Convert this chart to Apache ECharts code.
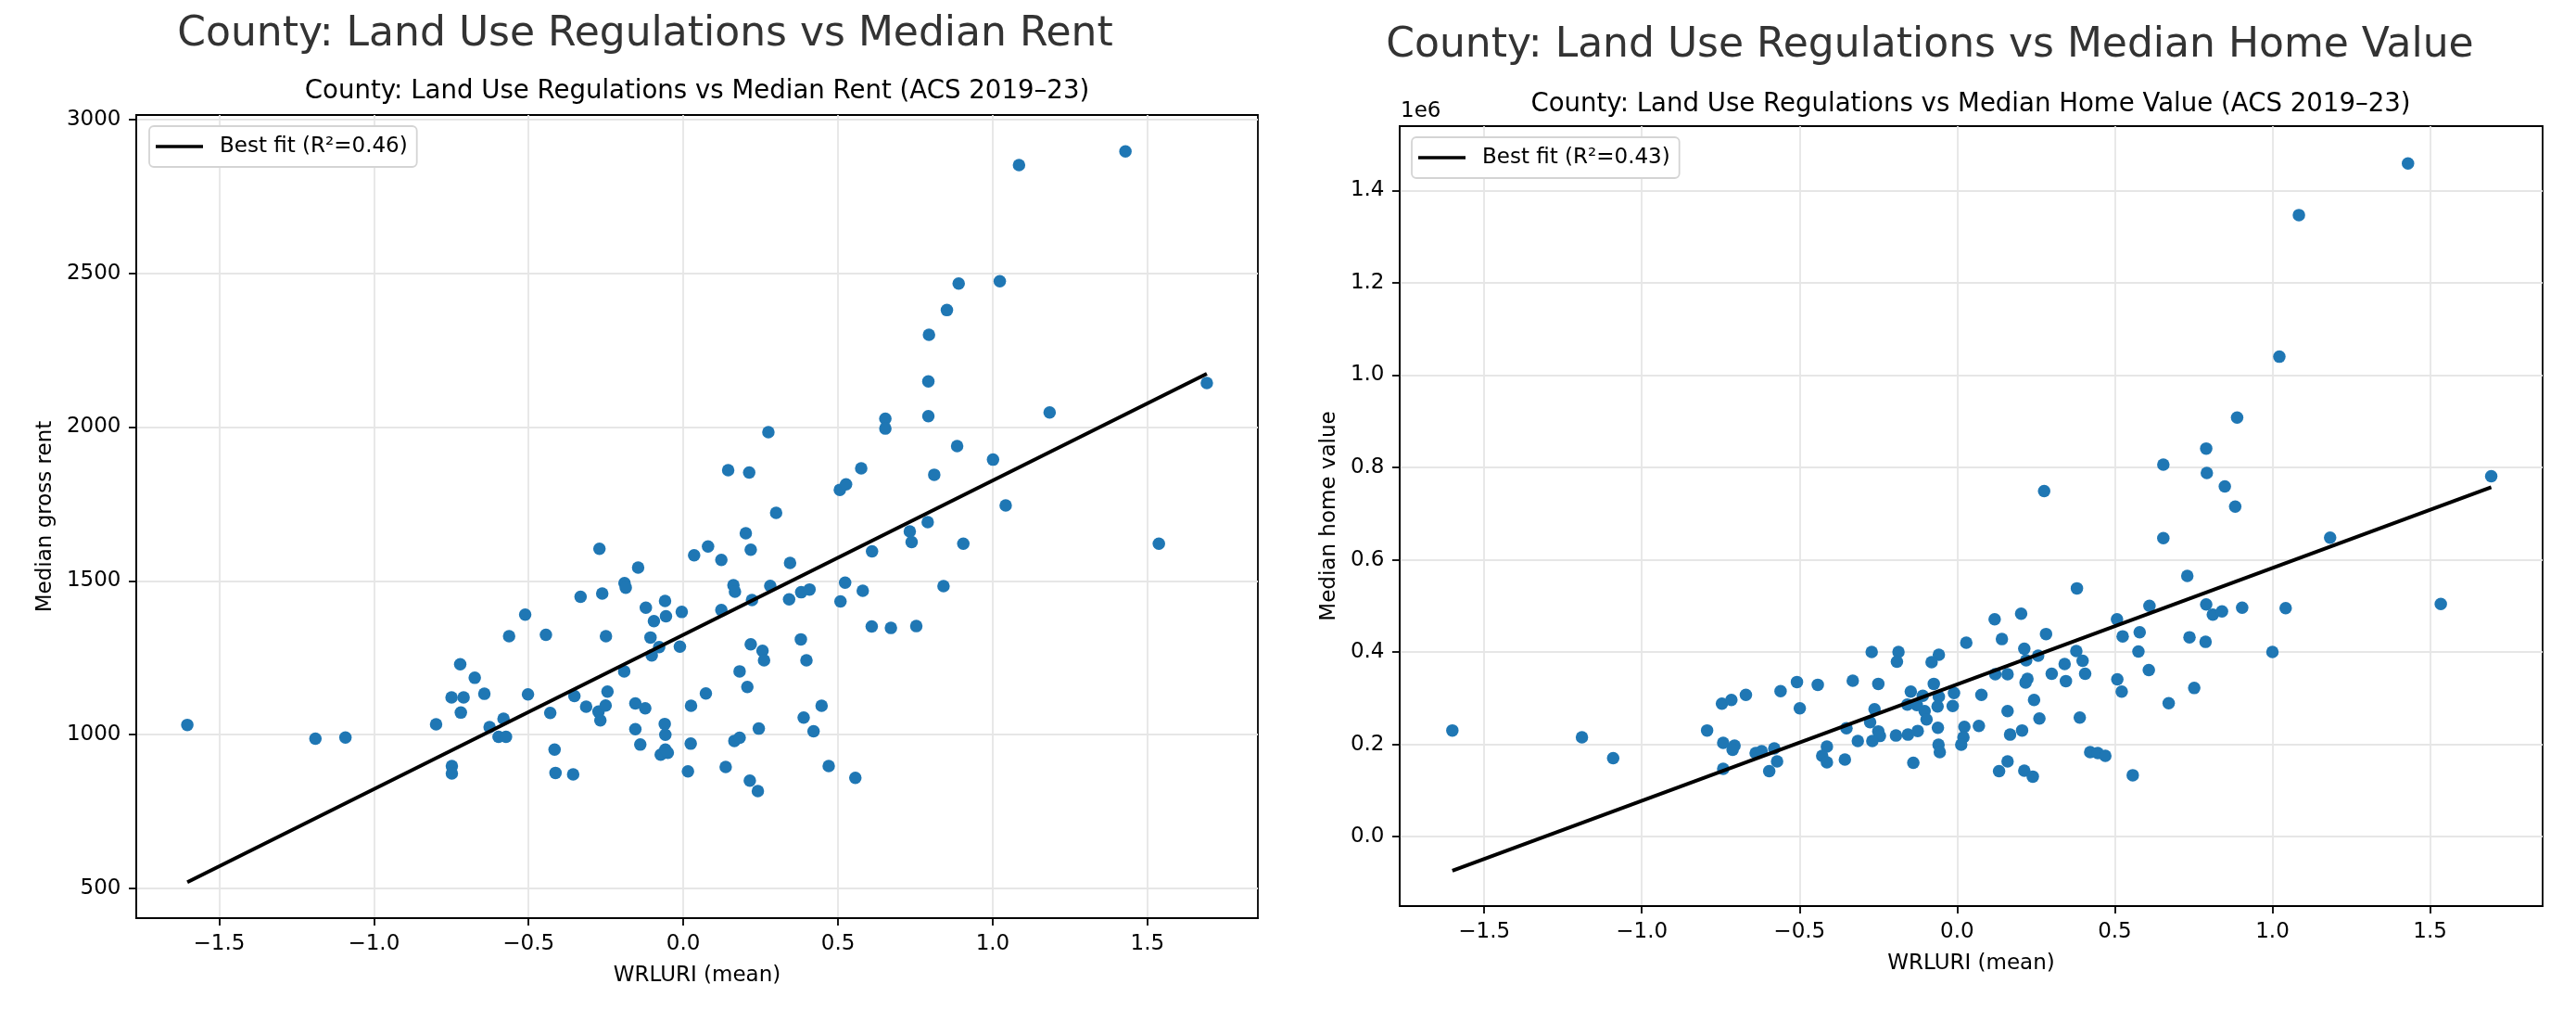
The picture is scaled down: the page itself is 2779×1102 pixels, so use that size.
<!DOCTYPE html>
<html>
<head>
<meta charset="utf-8">
<script src="https://cdn.jsdelivr.net/npm/echarts@6/dist/echarts.min.js"></script>
<style>
html,body{margin:0;padding:0;background:#fff;}
#chart{width:2779px;height:1102px;}
</style>
</head>
<body>
<div id="chart"></div>
<script>
// ---- Data ----
const rentX = [-1.603,-1.189,-1.092,-0.799,-0.749,-0.710,-0.721,-0.674,-0.643,-0.719,-0.626,-0.581,-0.597,-0.573,-0.748,-0.748,-0.563,-0.511,-0.502,-0.444,-0.430,-0.416,-0.413,-0.356,-0.352,-0.332,-0.314,-0.274,-0.271,-0.268,-0.262,-0.251,-0.250,-0.245,-0.191,-0.190,-0.186,-0.155,-0.155,-0.146,-0.139,-0.123,-0.121,-0.106,-0.102,-0.095,-0.078,-0.073,-0.060,-0.059,-0.058,-0.058,-0.056,-0.050,-0.011,-0.005,0.015,0.024,0.025,0.035,0.073,0.080,0.123,0.123,0.137,0.145,0.162,0.167,0.165,0.182,0.182,0.202,0.207,0.213,0.215,0.218,0.218,0.222,0.241,0.244,0.256,0.261,0.275,0.281,0.300,0.342,0.345,0.380,0.381,0.389,0.398,0.408,0.421,0.447,0.470,0.506,0.508,0.523,0.526,0.556,0.575,0.580,0.609,0.610,0.653,0.653,0.671,0.732,0.738,0.753,0.790,0.792,0.792,0.794,0.811,0.841,0.852,0.885,0.890,0.905,1.001,1.023,1.042,1.085,1.184,1.429,1.537,1.692];
const rentY = [1032,987,991,1034,1121,1121,1229,1185,1133,1072,1025,1052,993,993,898,874,1320,1390,1131,1325,1071,952,876,871,1126,1448,1091,1075,1604,1047,1459,1095,1320,1140,1206,1493,1478,1102,1018,1543,968,1086,1413,1316,1258,1369,1285,935,1035,1435,1000,952,1385,941,1286,1399,881,971,1094,1583,1134,1612,1568,1405,895,1860,1486,1465,980,990,1206,1655,1155,1852,851,1601,1294,1438,817,1020,1273,1242,1983,1484,1721,1440,1558,1310,1463,1056,1242,1472,1011,1094,898,1796,1433,1494,1814,860,1866,1468,1352,1596,2027,1995,1347,1661,1626,1353,1691,2035,2148,2300,1845,1483,2380,1938,2466,1621,1894,2474,1745,2851,2047,2896,1621,2143];

const homeX = [-1.601,-1.190,-1.091,0.119,0.142,0.029,-0.271,-0.186,-0.191,-0.058,-0.081,-0.508,-0.442,-0.331,-0.250,-0.560,-0.670,-0.746,-0.716,-0.499,-0.074,-0.147,-0.109,-0.058,-0.010,0.077,0.121,0.160,-0.158,-0.128,-0.262,-0.103,-0.097,-0.062,-0.014,-0.276,-0.351,-0.250,-0.245,-0.269,-0.315,-0.194,-0.156,-0.125,-0.061,0.023,0.069,0.020,0.013,-0.059,-0.055,-0.793,-0.742,-0.706,-0.712,-0.639,-0.620,-0.580,-0.571,-0.596,-0.742,-0.413,-0.428,-0.413,-0.356,-0.139,0.160,0.168,0.160,0.133,0.730,0.380,0.203,0.610,0.790,0.811,0.840,0.904,1.042,0.507,0.282,0.525,0.579,0.737,0.788,1.000,0.575,0.213,0.219,0.257,0.378,0.398,0.341,0.300,0.345,0.406,0.223,0.217,0.508,0.522,0.608,0.752,0.671,0.244,0.261,0.389,0.206,0.422,0.446,0.470,0.557,0.213,0.240,1.430,1.084,1.022,0.888,0.790,0.792,0.849,0.882,1.694,1.183,0.276,0.654,0.654,1.534];
const homeY = [230000,215000,170000,471000,428000,420000,400000,400000,379000,394000,378000,335000,329000,338000,331000,315000,307000,288000,296000,278000,331000,314000,305000,303000,311000,307000,352000,352000,286000,285000,276000,272000,254000,282000,283000,248000,235000,228000,218000,207000,207000,219000,221000,229000,236000,238000,240000,215000,199000,199000,183000,230000,203000,197000,188000,181000,185000,191000,163000,142000,147000,195000,175000,161000,167000,160000,272000,221000,163000,142000,565000,538000,483000,500000,503000,481000,488000,496000,495000,471000,439000,434000,443000,432000,422000,400000,401000,407000,382000,392000,402000,381000,374000,353000,337000,353000,342000,334000,341000,314000,361000,322000,289000,296000,256000,258000,230000,183000,181000,175000,133000,143000,130000,1459000,1347000,1040000,908000,841000,788000,759000,715000,781000,648000,749000,806000,647000,504000];

// best-fit lines
const rentFit = { slope: 501.4, intercept: 1324.7, label: 'Best fit (R²=0.46)' };
const homeFit = { slope: 252200, intercept: 330000, label: 'Best fit (R²=0.43)' };

const xTicks = [-1.5, -1.0, -0.5, 0.0, 0.5, 1.0, 1.5];
const rentTicks = [500, 1000, 1500, 2000, 2500, 3000];
const homeTicks = [0, 200000, 400000, 600000, 800000, 1000000, 1200000, 1400000];

const texts = {
  sup1: 'County: Land Use Regulations vs Median Rent',
  sup2: 'County: Land Use Regulations vs Median Home Value',
  t1: 'County: Land Use Regulations vs Median Rent (ACS 2019–23)',
  t2: 'County: Land Use Regulations vs Median Home Value (ACS 2019–23)',
  xName: 'WRLURI (mean)',
  y1Name: 'Median gross rent',
  y2Name: 'Median home value'
};

// ---- build ----
function pairs(xs, ys) { return xs.map((x, i) => [x, ys[i]]); }
function fitLine(xs, fit) {
  const lo = Math.min(...xs), hi = Math.max(...xs);
  return [[lo, fit.slope * lo + fit.intercept], [hi, fit.slope * hi + fit.intercept]];
}

const FONT = 'DejaVu Sans';
const BLUE = '#1f77b4';

function xAxisCfg(gi) {
  return {
    type: 'value', gridIndex: gi, min: -1.768, max: 1.857,
    name: texts.xName, nameLocation: 'middle', nameGap: 51,
    nameTextStyle: { fontFamily: FONT, fontSize: 23, color: '#000' },
    axisLine: { show: true, onZero: false, lineStyle: { color: '#000', width: 1.8 } },
    axisTick: { show: true, inside: false, length: 8, customValues: xTicks, lineStyle: { color: '#000', width: 1.8 } },
    axisLabel: { show: true, margin: 16.5, customValues: xTicks, fontFamily: FONT, fontSize: 23, color: '#000',
      formatter: v => v.toFixed(1).replace('-', '\u2212') },
    splitLine: { show: true, customValues: xTicks, lineStyle: { color: '#e6e6e6', width: 1.8 } }
  };
}

function legendCfg(label, left, top) {
  return {
    data: [{ name: label, icon: 'rect', itemStyle: { color: '#000', borderWidth: 0 } }],
    left: left, top: top, itemWidth: 51, itemHeight: 3.6, itemGap: 0,
    padding: [10, 10, 10, 7], backgroundColor: '#fff', borderColor: '#d4d4d4', borderWidth: 1.8, borderRadius: 5,
    textStyle: { fontFamily: FONT, fontSize: 23, color: '#000', padding: [0, 0, 0, 13], lineHeight: 24 }
  };
}

const option = {
  animation: false,
  backgroundColor: '#fff',
  grid: [
    { left: 147, top: 124, width: 1210, height: 866, show: true, borderColor: '#000', borderWidth: 1.8, backgroundColor: 'transparent', containLabel: false, outerBoundsMode: 'none' },
    { left: 1510, top: 136, width: 1233, height: 841, show: true, borderColor: '#000', borderWidth: 1.8, backgroundColor: 'transparent', containLabel: false, outerBoundsMode: 'none' }
  ],
  xAxis: [xAxisCfg(0), xAxisCfg(1)],
  yAxis: [
    {
      type: 'value', gridIndex: 0, min: 404, max: 3014,
      name: texts.y1Name, nameLocation: 'middle', nameGap: 86,
      nameTextStyle: { fontFamily: FONT, fontSize: 23, color: '#000' },
      axisLine: { show: true, onZero: false, lineStyle: { color: '#000', width: 1.8 } },
      axisTick: { show: true, length: 8, customValues: rentTicks, lineStyle: { color: '#000', width: 1.8 } },
      axisLabel: { margin: 16.5, customValues: rentTicks, fontFamily: FONT, fontSize: 23, color: '#000', formatter: v => String(v) },
      splitLine: { show: true, customValues: rentTicks, lineStyle: { color: '#e6e6e6', width: 1.8 } }
    },
    {
      type: 'value', gridIndex: 1, min: -150600, max: 1539700,
      name: texts.y2Name, nameLocation: 'middle', nameGap: 64,
      nameTextStyle: { fontFamily: FONT, fontSize: 23, color: '#000' },
      axisLine: { show: true, onZero: false, lineStyle: { color: '#000', width: 1.8 } },
      axisTick: { show: true, length: 8, customValues: homeTicks, lineStyle: { color: '#000', width: 1.8 } },
      axisLabel: { margin: 16.5, customValues: homeTicks, fontFamily: FONT, fontSize: 23, color: '#000', formatter: v => (v / 1e6).toFixed(1) },
      splitLine: { show: true, customValues: homeTicks, lineStyle: { color: '#e6e6e6', width: 1.8 } }
    }
  ],
  legend: [legendCfg(rentFit.label, 161, 136), legendCfg(homeFit.label, 1523, 148)],
  series: [
    { type: 'scatter', name: 'rent', xAxisIndex: 0, yAxisIndex: 0, data: pairs(rentX, rentY), symbolSize: 13.5, itemStyle: { color: BLUE, opacity: 1 }, z: 2 },
    { type: 'line', name: rentFit.label, xAxisIndex: 0, yAxisIndex: 0, data: fitLine(rentX, rentFit), symbol: 'none', lineStyle: { color: '#000', width: 4 }, itemStyle: { color: '#000' }, z: 3 },
    { type: 'scatter', name: 'home', xAxisIndex: 1, yAxisIndex: 1, data: pairs(homeX, homeY), symbolSize: 13.5, itemStyle: { color: BLUE, opacity: 1 }, z: 2 },
    { type: 'line', name: homeFit.label, xAxisIndex: 1, yAxisIndex: 1, data: fitLine(homeX, homeFit), symbol: 'none', lineStyle: { color: '#000', width: 4 }, itemStyle: { color: '#000' }, z: 3 }
  ],
  graphic: [
    { type: 'text', x: 696, y: 37.5, style: { text: texts.sup1, fontFamily: FONT, fontSize: 44, fill: '#333333', textAlign: 'center', textVerticalAlign: 'middle' } },
    { type: 'text', x: 2082, y: 50, style: { text: texts.sup2, fontFamily: FONT, fontSize: 44, fill: '#333333', textAlign: 'center', textVerticalAlign: 'middle' } },
    { type: 'text', x: 752, y: 98.4, style: { text: texts.t1, fontFamily: FONT, fontSize: 27.6, fill: '#000', textAlign: 'center', textVerticalAlign: 'middle' } },
    { type: 'text', x: 2126, y: 112.7, style: { text: texts.t2, fontFamily: FONT, fontSize: 27.6, fill: '#000', textAlign: 'center', textVerticalAlign: 'middle' } },
    { type: 'text', x: 1511, y: 120.5, style: { text: '1e6', fontFamily: FONT, fontSize: 23, fill: '#000', textAlign: 'left', textVerticalAlign: 'middle' } }
  ]
};

const chart = echarts.init(document.getElementById('chart'), null, { renderer: 'canvas', width: 2779, height: 1102 });
chart.setOption(option);
</script>
</body>
</html>
